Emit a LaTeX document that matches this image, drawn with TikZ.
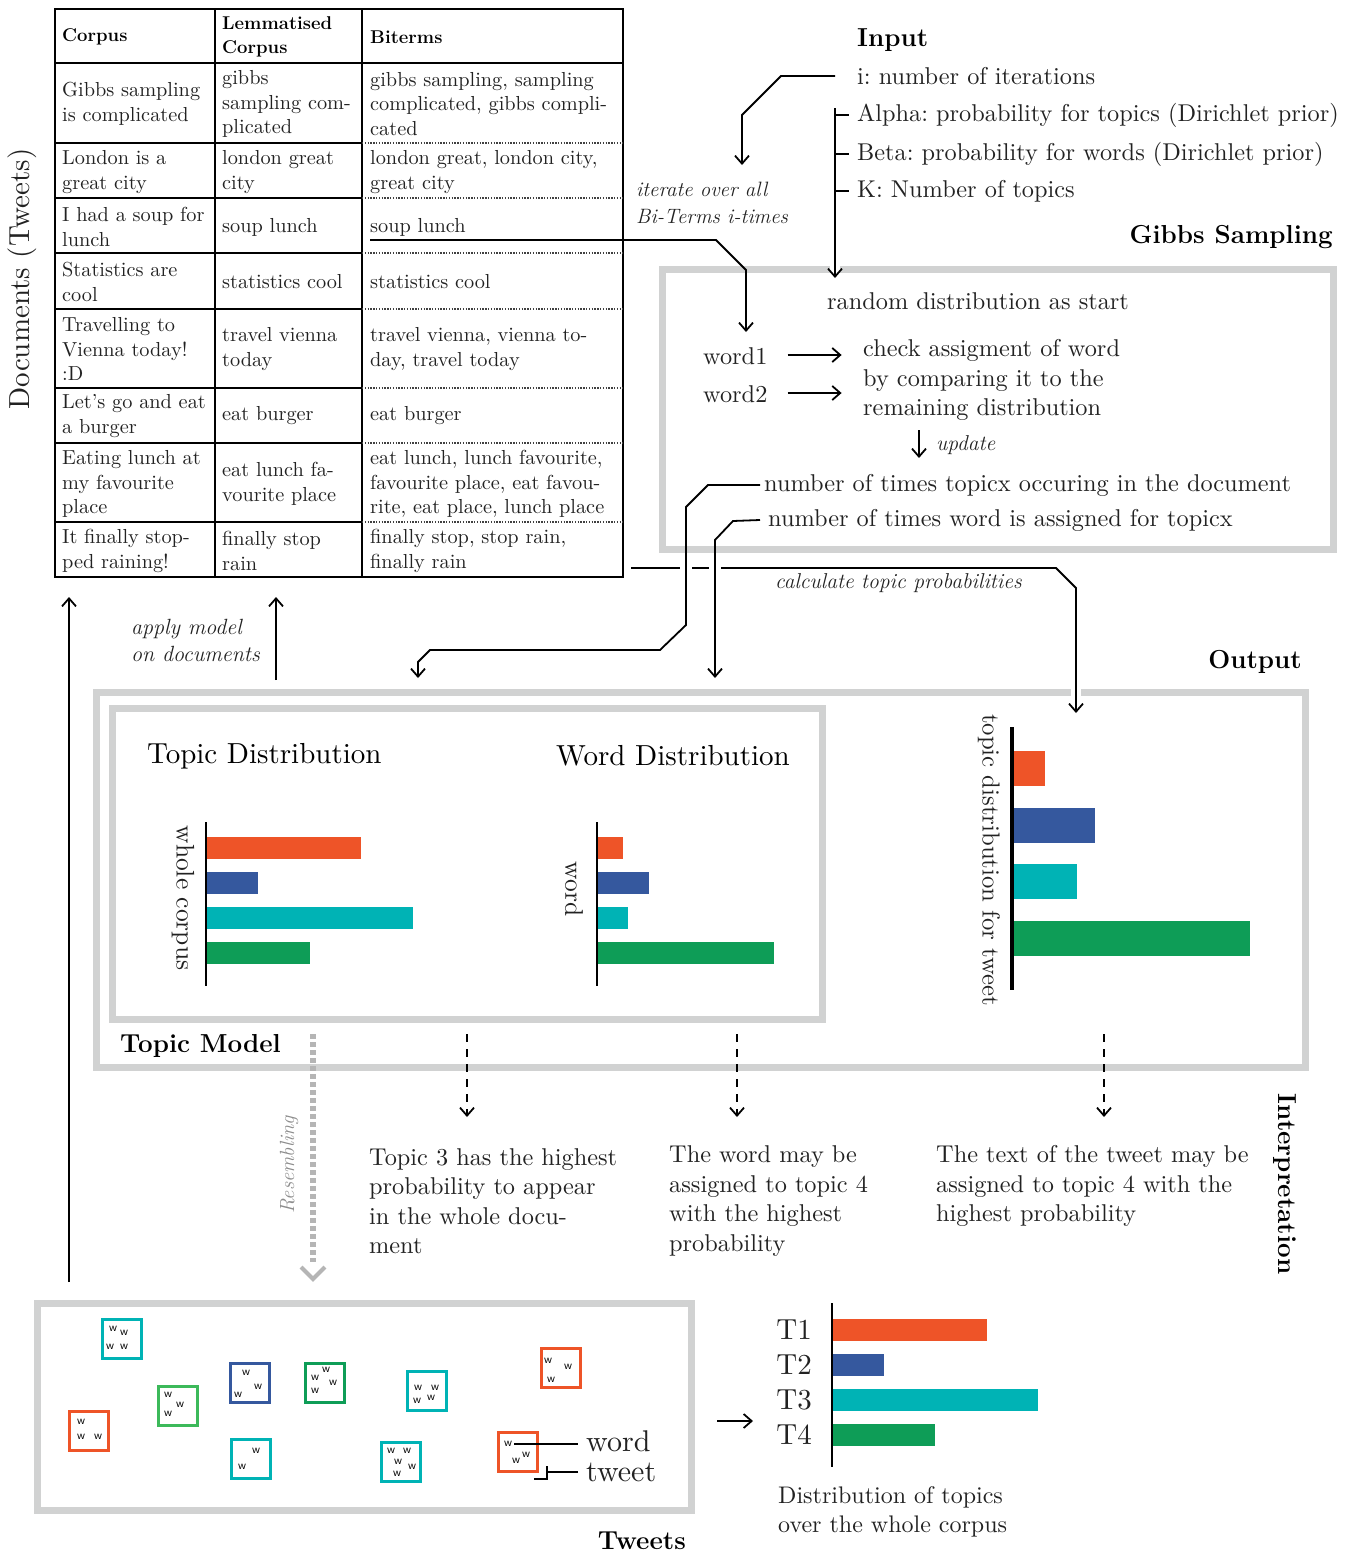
\documentclass[tikz,border=0pt]{standalone}
\usepackage{fontspec}
\newfontfamily\wfont{lmroman10-regular.otf}
\usetikzlibrary{arrows.meta}
\definecolor{cor}{HTML}{EE5428}
\definecolor{cbl}{HTML}{35589E}
\definecolor{cte}{HTML}{00B3B5}
\definecolor{cgr}{HTML}{0E9D57}
\definecolor{clg}{HTML}{3CB95A}
\definecolor{boxgray}{HTML}{D1D2D2}
\definecolor{dotgray}{HTML}{B5B5B5}
\definecolor{ink}{HTML}{222222}
\tikzset{
  body/.style={inner sep=0pt, anchor=west, align=left, text=ink, font=\wfont\frenchspacing\fontsize{24.3}{29.5}\selectfont},
  cell/.style={inner sep=0pt, anchor=west, align=left, text=ink, font=\wfont\frenchspacing\fontsize{20.3}{24.5}\selectfont},
  cellhead/.style={inner sep=0pt, anchor=west, align=left, font=\fontsize{18.5}{24}\selectfont\bfseries},
  ital/.style={inner sep=0pt, anchor=west, align=left, text=ink, font=\fontsize{20.8}{26.5}\selectfont\itshape},
  heading/.style={inner sep=0pt, font=\fontsize{26}{30}\selectfont\bfseries},
  subhead/.style={inner sep=0pt, anchor=west, font=\wfont\fontsize{29}{30}\selectfont},
  rotlab/.style={inner sep=0pt, text=ink, font=\wfont\fontsize{24.7}{28}\selectfont},
  gbox/.style={draw=boxgray, line width=7pt},
  tbl/.style={line width=1.8pt},
  dsep/.style={line width=1.3pt, dash pattern=on 1.3pt off 1.5pt, black!75},
  conn/.style={line width=1.8pt},
  arr/.style={conn, -{Straight Barb[length=8pt,width=14pt]}},
  dasharr/.style={arr, dash pattern=on 8pt off 7pt},
  twbox/.style={draw=#1, line width=3.5pt, fill=white, minimum width=39pt, minimum height=39pt, inner sep=0pt},
  wl/.style={inner sep=0pt, font=\fontsize{12}{12}\selectfont\sffamily},
  tlab/.style={inner sep=0pt, anchor=east, text=ink, font=\wfont\fontsize{29}{30}\selectfont},
}
\begin{document}
\begin{tikzpicture}[x=1pt,y=-1pt]
\useasboundingbox (0,0) rectangle (1352,1555);

% ---------------- gray containers
\draw[gbox] (662.5,269) rectangle (1333.5,549.5);
\draw[gbox] (96.5,692.5) rectangle (1305.5,1067.5);
\draw[gbox] (112,708.5) rectangle (822,1019);
\draw[gbox] (37.5,1303.5) rectangle (691,1510);

% ---------------- table
\draw[tbl] (55,9) rectangle (623,577);
\draw[tbl] (215,9) -- (215,577);
\draw[tbl] (362,9) -- (362,577);
\draw[tbl] (55,63) -- (623,63);
\foreach \yy in {143,198,253,309,388,443,522}{
  \draw[tbl] (55,\yy) -- (362,\yy);
  \draw[dsep] (362,\yy) -- (623,\yy);
}
\node[cellhead] (h1) at (62,37) {Corpus};
\node[cellhead] (h2) at (222,37) {Lemmatised\\Corpus};
\node[cellhead] (h3) at (370,37) {Biterms};

\node[cell] (c11) at (62,104) {Gibbs sampling\\is complicated};
\node[cell] (c12) at (222,104) {gibbs\\sampling com-\\plicated};
\node[cell] (c13) at (370,104) {gibbs sampling, sampling\\complicated, gibbs compli-\\cated};
\node[cell] (c21) at (62,172) {London is a\\great city};
\node[cell] (c22) at (222,172) {london great\\city};
\node[cell] (c23) at (370,172) {london great, london city,\\great city};
\node[cell] (c31) at (62,227) {I had a soup for\\lunch};
\node[cell] (c32) at (222,227) {soup lunch};
\node[cell] (c33) at (370,227) {soup lunch};
\node[cell] (c41) at (62,282) {Statistics are\\cool};
\node[cell] (c42) at (222,282) {statistics cool};
\node[cell] (c43) at (370,282) {statistics cool};
\node[cell] (c51) at (62,349) {Travelling to\\Vienna today!\\:D};
\node[cell] (c52) at (222,349) {travel vienna\\today};
\node[cell] (c53) at (370,349) {travel vienna, vienna to-\\day, travel today};
\node[cell] (c61) at (62,416) {Let’s go and eat\\a burger};
\node[cell] (c62) at (222,416) {eat burger};
\node[cell] (c63) at (370,416) {eat burger};
\node[cell] (c71) at (62,484) {Eating lunch at\\my favourite\\place};
\node[cell] (c72) at (222,484) {eat lunch fa-\\vourite place};
\node[cell] (c73) at (370,484) {eat lunch, lunch favourite,\\favourite place, eat favou-\\rite, eat place, lunch place};
\node[cell] (c81) at (62,551) {It finally stop-\\ped raining!};
\node[cell] (c82) at (222,551) {finally stop\\rain};
\node[cell] (c83) at (370,551) {finally stop, stop rain,\\finally rain};

\node[rotlab, rotate=90, font=\wfont\fontsize{29}{30}\selectfont] (docs) at (22,279) {Documents (Tweets)};

% ---------------- input
\node[heading, anchor=west] (inputH) at (857,40) {Input};
\node[body] (inI) at (857,76) {i: number of iterations};
\node[body] (inA) at (857,115) {Alpha: probability for topics (Dirichlet prior)};
\node[body] (inB) at (857,154) {Beta: probability for words (Dirichlet prior)};
\node[body] (inK) at (857,191) {K: Number of topics};
\node[ital] (iterlab) at (636,203) {iterate over all\\Bi-Terms i-times};

\node[heading, anchor=east] (gibbsH) at (1333,237) {Gibbs Sampling};
\node[body] (rnd) at (827,301) {random distribution as start};
\node[body] (w1) at (703,356) {word1};
\node[body] (w2) at (703,394) {word2};
\node[body] (chk) at (863,380) {check assigment of word\\by comparing it to the\\remaining distribution};
\node[ital, font=\fontsize{21.5}{26}\selectfont\itshape] (upd) at (936,445) {update};
\node[body] (ntd) at (764,485) {number of times topicx occuring in the document};
\node[body] (ntw) at (768,520) {number of times word is assigned for topicx};
\node[ital, font=\fontsize{21.5}{26}\selectfont\itshape] (calc) at (775,583) {calculate topic probabilities};
\node[ital, font=\fontsize{22}{27}\selectfont\itshape] (apply) at (131,640) {apply model\\on documents};

% free ends
\coordinate (iterEnd) at (742,165);
\coordinate (brTop) at (835,108);
\coordinate (brEnd) at (835,278);
\coordinate (soupA) at (370,240);
\coordinate (w1In) at (746,332);
\coordinate (topicEnd) at (418,678);
\coordinate (wordEnd) at (715,678);
\coordinate (tabR) at (631,568);
\coordinate (tweetEnd) at (1076,713);
\coordinate (applyA) at (276,680);
\coordinate (applyB) at (276,597);
\coordinate (leftA) at (69,1282);
\coordinate (leftB) at (69,597);

% connectors (input)
\draw[arr] (inI.west) ++(-22,0) -- (781,76) -- (742,115) -- (iterEnd);
\fill[white] (830,264) rectangle (840,275);
\draw[arr] (brTop) -- (brEnd);
\foreach \yy in {115,154,191}{ \draw[conn] (835,\yy) -- (849,\yy); }
\draw[arr] (soupA) -- (716,240) -- (746,270) -- (w1In);
\draw[arr] (w1.east) ++(20,-1) -- ++(54,0);
\draw[arr] (w2.east) ++(20,-1) -- ++(54,0);
\draw[arr] (919,430) -- (919,458);

% calculate topic probabilities
\fill[white] (1071,686) rectangle (1081,700);
\draw[arr] (tabR) -- (1056,568) -- (1076,588) -- (tweetEnd);
\fill[white] (680,563) rectangle (692,573);
\fill[white] (709,563) rectangle (721,573);
\draw[arr] (ntd.west) ++(-4,0) -- (708,485) -- (686,507) -- (686,625) -- (660,650) -- (430,650) -- (418,662) -- (topicEnd);
\draw[arr] (ntw.west) ++(-8,0) -- (733,521) -- (715,540) -- (wordEnd);

\draw[arr] (applyA) -- (applyB);
\draw[arr] (leftA) -- (leftB);

% ---------------- output
\node[heading, anchor=east] (outH) at (1302,662) {Output};
\node[subhead] (tdH) at (147,756) {Topic Distribution};
\node[subhead] (wdH) at (556,756) {Word Distribution};
\node[heading, anchor=west] (tmH) at (120,1046) {Topic Model};

% topic distribution chart
\fill[cor] (206,837) rectangle (361,859);
\fill[cbl] (206,872) rectangle (258,894);
\fill[cte] (206,907) rectangle (413,929);
\fill[cgr] (206,942) rectangle (310,964);
\draw[line width=2.2pt] (206,822) -- (206,986);
\node[rotlab, rotate=-90, font=\wfont\fontsize{25.5}{28}\selectfont] (wcorp) at (183,898) {whole corpus};

% word distribution chart
\fill[cor] (597,837) rectangle (623,859);
\fill[cbl] (597,872) rectangle (649,894);
\fill[cte] (597,907) rectangle (628,929);
\fill[cgr] (597,942) rectangle (774,964);
\draw[line width=2.2pt] (597,822) -- (597,986);
\node[rotlab, rotate=-90, font=\wfont\fontsize{25.5}{28}\selectfont] (wordlab) at (574,889) {word};

% tweet distribution chart
\fill[cor] (1012,751) rectangle (1045,786);
\fill[cbl] (1012,808) rectangle (1095,843);
\fill[cte] (1012,864) rectangle (1077,899);
\fill[cgr] (1012,921) rectangle (1250,956);
\draw[line width=4pt] (1012,727) -- (1012,990);
\node[rotlab, rotate=-90] (tdt) at (989,860) {topic distribution for tweet};

% ---------------- interpretation
\draw[dasharr] (467,1034) -- (467,1117);
\draw[dasharr] (737,1034) -- (737,1117);
\draw[dasharr] (1104,1034) -- (1104,1117);
\node[body] (int1) at (369,1201) {Topic 3 has the highest\\probability to appear\\in the whole docu-\\ment};
\node[body] (int2) at (669,1201) {The word may be\\assigned to topic 4\\with the highest\\probability};
\node[body] (int3) at (936,1186) {The text of the tweet may be\\assigned to topic 4 with the\\highest probability};
\node[heading, rotate=-90] (interpH) at (1285,1184) {Interpretation};

% resembling
\draw[dotgray, line width=6pt, dash pattern=on 5pt off 3pt] (313,1034) -- (313,1262);
\draw[dotgray, line width=4pt] (301,1267) -- (313,1279) -- (325,1267);
\node[inner sep=0pt, rotate=90, text=black!45, font=\fontsize{20.5}{24}\selectfont\itshape] (resem) at (289,1165) {Resembling};

% ---------------- tweets
\node[twbox=cte] (tw1) at (122,1339) {};
\node[twbox=cor] (tw2) at (89,1431) {};
\node[twbox=clg] (tw3) at (178,1406) {};
\node[twbox=cbl] (tw4) at (250,1383) {};
\node[twbox=cte] (tw5) at (251,1459) {};
\node[twbox=cgr] (tw6) at (325,1383) {};
\node[twbox=cte] (tw7) at (427,1391) {};
\node[twbox=cte] (tw8) at (401,1462) {};
\node[twbox=cor] (tw9) at (561,1368) {};
\node[twbox=cor] (tw10) at (518,1452) {};
\foreach \p [count=\i] in {(113,1329),(124,1333),(110,1347),(124,1347),
  (81,1422),(81,1437),(98,1437),
  (168,1395),(180,1405),(168,1414),
  (246,1373),(258,1387),(238,1395),
  (256,1451),(242,1467),
  (326,1370),(315,1378),(333,1383),(315,1391),
  (418,1388),(435,1388),(417,1401),(431,1398),
  (391,1451),(407,1451),(398,1462),(412,1467),(397,1474),
  (548,1361),(568,1367),(551,1380),
  (508,1444),(516,1461),(526,1455)}
  { \node[wl] (wd\i) at \p {w}; }

\node[inner sep=0pt, anchor=west, text=ink, font=\wfont\fontsize{30}{30}\selectfont] (wordL) at (586,1441) {word};
\node[inner sep=0pt, anchor=west, text=ink, font=\wfont\fontsize{30}{30}\selectfont] (tweetL) at (586,1472) {tweet};
\draw[conn] (wd32.east) ++(2,0) -- (578,1444);
\draw[conn] (tweetL.west) ++(-8,0) -- (547,1472);
\draw[conn] (547,1466) -- (547,1479) -- (534,1479);
\node[heading, anchor=east] (tweetsH) at (686,1541) {Tweets};

% ---------------- corpus distribution
\coordinate (ra) at (717,1421);
\coordinate (rb) at (753,1421);
\draw[arr] (ra) -- (rb);
\fill[cor] (832,1319) rectangle (987,1341);
\fill[cbl] (832,1354) rectangle (884,1376);
\fill[cte] (832,1389) rectangle (1038,1411);
\fill[cgr] (832,1424) rectangle (935,1446);
\draw[line width=2.2pt] (832,1303) -- (832,1467);
\node[tlab] (T1) at (812,1330) {T1};
\node[tlab] (T2) at (812,1365) {T2};
\node[tlab] (T3) at (812,1400) {T3};
\node[tlab] (T4) at (812,1435) {T4};
\node[body, font=\wfont\fontsize{24}{29}\selectfont] (distc) at (778,1512) {Distribution of topics\\over the whole corpus};
\end{tikzpicture}
\end{document}
